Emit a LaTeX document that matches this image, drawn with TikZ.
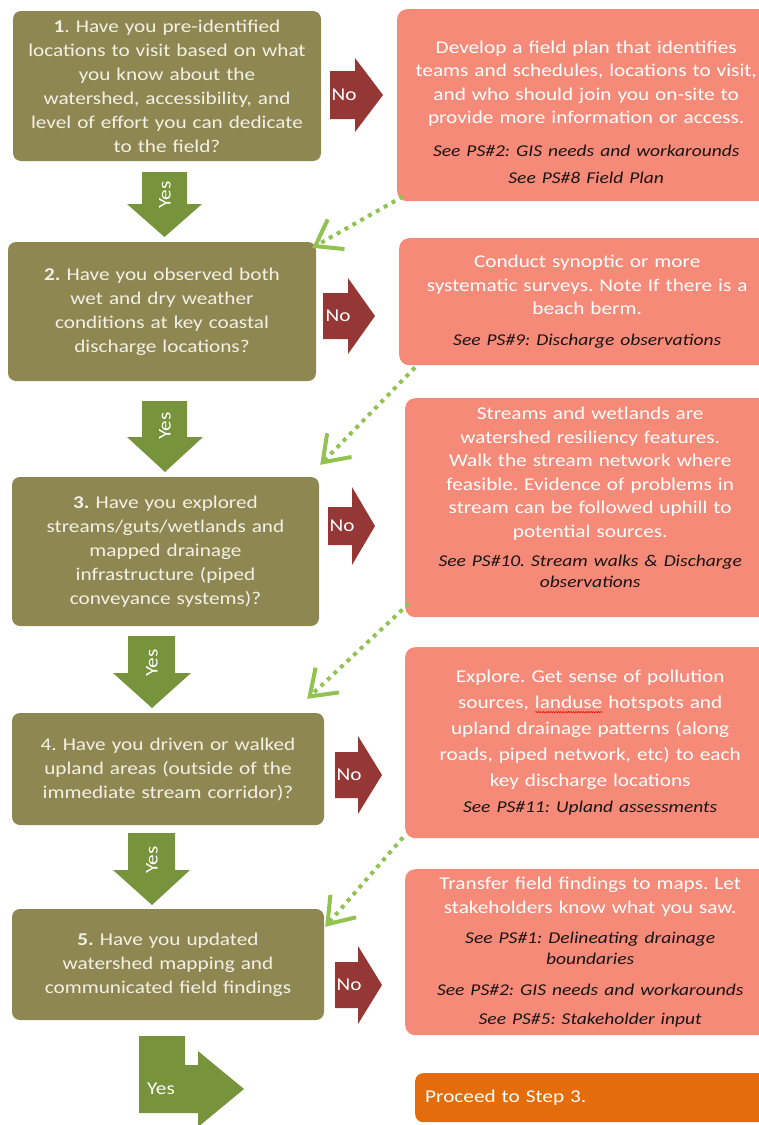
\documentclass[tikz,border=0pt]{standalone}
\usepackage{fontspec}
\setmainfont{Carlito}[FakeStretch=1.18]
\usepackage{xcolor}
\usepackage{tikz}
\usetikzlibrary{positioning, arrows.meta, decorations.pathmorphing}

\definecolor{olivebox}{RGB}{143,135,82}
\definecolor{salmonbox}{RGB}{245,138,120}
\definecolor{noarrowred}{RGB}{149,55,53}
\definecolor{yesgreen}{RGB}{119,147,60}
\definecolor{dotgreen}{RGB}{146,194,82}
\definecolor{proceedorange}{RGB}{228,108,10}
\definecolor{questiontext}{RGB}{243,241,230}
\definecolor{seetext}{RGB}{25,20,20}

\frenchspacing
\newlength{\wavelen}
\newcommand{\redwave}[1]{\settowidth{\wavelen}{#1}\rlap{\tikz[baseline=0pt, x=1pt, y=1pt, sharp corners]\draw[red, line width=0.5pt, decorate, decoration={snake, amplitude=0.6pt, segment length=2.5pt}] (0,-3.5) -- (\wavelen,-3.5);}#1}
\newcommand{\seeps}[1]{{\itshape\fontsize{16.5}{21}\selectfont\color{seetext}#1}}

\begin{document}
\begin{tikzpicture}[
    x=1pt, y=-1pt,
    question/.style={rectangle, rounded corners=8pt, fill=olivebox, text=questiontext, align=center, text width=300pt, inner sep=0pt, font=\fontsize{18}{24}\selectfont},
    action/.style={rectangle, rounded corners=10pt, fill=salmonbox, text=white, align=center, text width=350pt, inner sep=0pt, anchor=north west, font=\fontsize{18}{23.5}\selectfont},
    proceed/.style={rectangle, rounded corners=8pt, fill=proceedorange, text=white, align=left, text width=340pt, inner xsep=10pt, anchor=north west, font=\fontsize{18}{22}\selectfont},
    noarrow/.style={fill=noarrowred},
    yesarrow/.style={fill=yesgreen},
    arrowlabel/.style={text=white, inner sep=0pt, font=\fontsize{18}{20}\selectfont},
    feedback/.style={dotgreen, line width=4pt, dash pattern=on 4pt off 5pt, -{Straight Barb[length=24pt, width=34pt, line width=4pt]}}
]
\useasboundingbox (0,0) rectangle (759,1125);

% questions
\node[question, minimum width=308pt, minimum height=150pt] (q1) at (167,86) {\textbf{1}. Have you pre-identified\\ locations to visit based on what\\ you know about the\\ watershed, accessibility, and\\ level of effort you can dedicate\\ to the field?};
\node[question, minimum width=308pt, minimum height=139pt] (q2) at (162,311.5) {\textbf{2.} Have you observed both\\ wet and dry weather\\ conditions at key coastal\\ discharge locations?};
\node[question, minimum width=307pt, minimum height=149pt] (q3) at (165.5,551.5) {\textbf{3.} Have you explored\\ streams/guts/wetlands and\\ mapped drainage\\ infrastructure (piped\\ conveyance systems)?};
\node[question, minimum width=312pt, minimum height=112pt] (q4) at (168,769) {4. Have you driven or walked\\ upland areas (outside of the\\ immediate stream corridor)?};
\node[question, minimum width=312pt, minimum height=111pt] (q5) at (168,964.5) {\textbf{5.} Have you updated\\ watershed mapping and\\ communicated field findings};

% actions
\node[action, minimum width=378pt, minimum height=192pt] (a1) at (397,9) {\rule{0pt}{27pt}Develop a field plan that identifies\\ teams and schedules, locations to visit,\\ and who should join you on-site to\\ provide more information or access.\\[9pt] \seeps{See PS\#2: GIS needs and workarounds}\\[4pt] \seeps{See PS\#8 Field Plan}};
\node[action, minimum width=376pt, minimum height=127pt] (a2) at (399,238) {Conduct synoptic or more\\ systematic surveys. Note If there is a\\ beach berm.\\[7pt] \seeps{See PS\#9: Discharge observations}};
\node[action, minimum width=370pt, minimum height=219pt] (a3) at (405,398) {Streams and wetlands are\\ watershed resiliency features.\\ Walk the stream network where\\ feasible. Evidence of problems in\\ stream can be followed uphill to\\ potential sources.\\[6pt] \seeps{See PS\#10. Stream walks \& Discharge}\\[-2.5pt] \seeps{observations}\rule[-20pt]{0pt}{20pt}};
\node[action, minimum width=370pt, minimum height=191pt, font=\fontsize{18}{26}\selectfont] (a4) at (405,647) {Explore. Get sense of pollution\\ sources, \redwave{landuse} hotspots and\\ upland drainage patterns (along\\ roads, piped network, etc) to each\\ key discharge locations\\ \seeps{See PS\#11: Upland assessments}};
\node[action, minimum width=370pt, minimum height=166pt] (a5) at (405,869) {Transfer field findings to maps. Let\\ stakeholders know what you saw.\\[7pt] \seeps{See PS\#1: Delineating drainage}\\[-2.5pt] \seeps{boundaries}\\[7pt] \seeps{See PS\#2: GIS needs and workarounds}\\[6pt] \seeps{See PS\#5: Stakeholder input}};
\node[proceed, minimum height=49pt] (p) at (415,1073) {Proceed to Step 3.};

% no arrows
\fill[noarrow] (330,71) -- (355,71) -- (355,58) -- (383,95) -- (355,132) -- (355,119) -- (330,119) -- cycle;
\node[arrowlabel] (no1) at (344,95) {No};
\fill[noarrow] (323,293) -- (348,293) -- (348,278) -- (375,316) -- (348,354) -- (348,339) -- (323,339) -- cycle;
\node[arrowlabel] (no2) at (338,316) {No};
\fill[noarrow] (328,507) -- (352,507) -- (352,487) -- (375,526) -- (352,565) -- (352,545) -- (328,545) -- cycle;
\node[arrowlabel] (no3) at (342,526) {No};
\fill[noarrow] (335,752) -- (358,752) -- (358,736) -- (382,775) -- (358,814) -- (358,798) -- (335,798) -- cycle;
\node[arrowlabel] (no4) at (349,775) {No};
\fill[noarrow] (335,962) -- (358,962) -- (358,946) -- (382,985) -- (358,1024) -- (358,1008) -- (335,1008) -- cycle;
\node[arrowlabel] (no5) at (349,985) {No};

% yes arrows
\fill[yesarrow] (142,172) -- (187,172) -- (187,204) -- (202,204) -- (164.5,237) -- (127,204) -- (142,204) -- cycle;
\node[arrowlabel, rotate=90] (yes1) at (165,195) {Yes};
\fill[yesarrow] (142,401) -- (187,401) -- (187,437) -- (203,437) -- (165,472) -- (127,437) -- (142,437) -- cycle;
\node[arrowlabel, rotate=90] (yes2) at (165,426) {Yes};
\fill[yesarrow] (128,636) -- (175,636) -- (175,673) -- (191,673) -- (152,708) -- (113,673) -- (128,673) -- cycle;
\node[arrowlabel, rotate=90] (yes3) at (152,663) {Yes};
\fill[yesarrow] (128,833) -- (175,833) -- (175,870) -- (190,870) -- (152,905) -- (113,870) -- (128,870) -- cycle;
\node[arrowlabel, rotate=90] (yes4) at (152,860) {Yes};
\fill[yesarrow] (139,1036) -- (185,1036) -- (185,1065) -- (198,1065) -- (198,1051) -- (244,1089) -- (198,1127) -- (198,1113) -- (139,1113) -- cycle;
\node[arrowlabel] (yes5) at (161,1089) {Yes};

% back to the next question
\draw[feedback] ([shift={(6,-5)}]a1.south west) -- ([shift={(-4,6)}]q2.north east);
\draw[feedback] ([shift={(16,2)}]a2.south west) -- ([shift={(1,-12)}]q3.north east);
\draw[feedback] ([shift={(4,-14)}]a3.south west) -- ([shift={(-17,-14)}]q4.north east);
\draw[feedback] ([shift={(-2,-1)}]a4.south west) -- ([shift={(1,18)}]q5.north east);

\end{tikzpicture}
\end{document}
